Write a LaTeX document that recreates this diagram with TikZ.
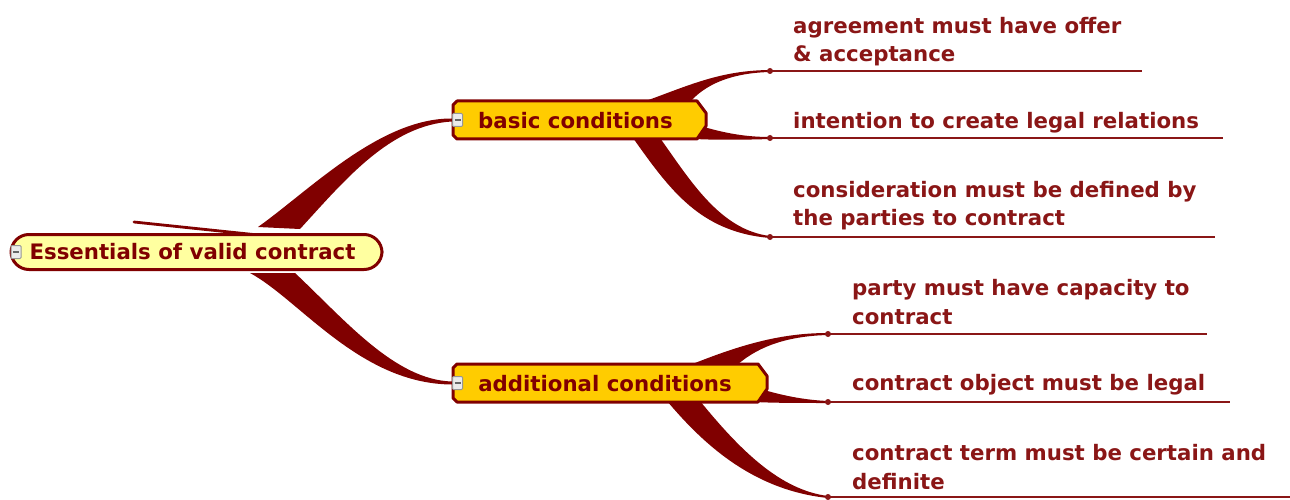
\documentclass[tikz,border=0pt]{standalone}
\usepackage{fontspec}
\setmainfont{DejaVu Sans}
\usetikzlibrary{calc}

\definecolor{branch}{RGB}{128,0,0}
\definecolor{leafred}{RGB}{138,22,22}
\definecolor{rootfill}{RGB}{255,255,160}
\definecolor{topicfill}{RGB}{255,204,0}
\definecolor{togglegray}{RGB}{150,150,150}

\begin{document}
\begin{tikzpicture}[x=1pt,y=-1pt,
  taper/.style={fill=branch},
  topictext/.style={font=\bfseries\fontsize{21.3}{24}\selectfont, text=branch, inner sep=0pt},
  leaf/.style={font=\bfseries\fontsize{21.3}{28.5}\selectfont, text=leafred, align=left, anchor=west, inner sep=0pt},
  leafline/.style={draw=leafred, line width=1.7pt},
  knob/.style={circle, fill=leafred, inner sep=0pt, minimum size=6pt},
  frame/.style={draw=branch, line width=3pt, line join=round},
  toggle/.style={draw=togglegray, fill=black!8, line width=1pt, rounded corners=1pt,
                 minimum width=10pt, minimum height=13pt, inner sep=0pt},
  minus/.style={draw=black!60, line width=1.2pt}
]
\useasboundingbox (0,0) rectangle (1290,500);

% end points of the leaf lines
\coordinate (k1) at (770,71);   \coordinate (e1) at (1142,71);
\coordinate (k2) at (770,138);  \coordinate (e2) at (1223,138);
\coordinate (k3) at (770,237);  \coordinate (e3) at (1215,237);
\coordinate (k4) at (828,334);  \coordinate (e4) at (1207,334);
\coordinate (k5) at (828,402);  \coordinate (e5) at (1230,402);
\coordinate (k6) at (828,497);  \coordinate (e6) at (1290,497);
\coordinate (basicin) at (452,120);
\coordinate (addin) at (452,383);

% tapered branches from the central topic
\fill[taper] (258,227) .. controls (310,190) and (380,118) .. ($(basicin)+(0,-1.5)$)
  -- ($(basicin)+(0,1.5)$) .. controls (390,125) and (345,180) .. (300,229) -- cycle;
\fill[taper] (250,273) .. controls (300,300) and (360,384) .. ($(addin)+(0,1.5)$)
  -- ($(addin)+(0,-1.5)$) .. controls (395,380) and (345,320) .. (295,273) -- cycle;
\draw[branch, line width=2.8pt, line cap=round] (134,222) -- (258,235);

% tapered branches to the leaves of "basic conditions"
\fill[taper] (643,102) .. controls (690,85) and (720,70.5) .. ($(k1)+(0,-1)$)
  -- ($(k1)+(0,1)$) .. controls (730,73) and (705,85) .. (690,102) -- cycle;
\fill[taper] (704,127) .. controls (725,133) and (745,137) .. ($(k2)+(0,-1)$)
  -- ($(k2)+(0,1)$) .. controls (740,140) and (715,140) .. (695,139) -- cycle;
\fill[taper] (633,138) .. controls (670,190) and (700,232) .. ($(k3)+(0,1)$)
  -- ($(k3)+(0,-1)$) .. controls (720,230) and (690,180) .. (660,138) -- cycle;

% tapered branches to the leaves of "additional conditions"
\fill[taper] (690,365) .. controls (740,345) and (780,333) .. ($(k4)+(0,-1)$)
  -- ($(k4)+(0,1)$) .. controls (790,336) and (760,345) .. (737,365) -- cycle;
\fill[taper] (764,390) .. controls (785,396) and (805,400) .. ($(k5)+(0,-1)$)
  -- ($(k5)+(0,1)$) .. controls (800,403) and (775,403) .. (755,402) -- cycle;
\fill[taper] (667,401) .. controls (700,440) and (750,490) .. ($(k6)+(0,1)$)
  -- ($(k6)+(0,-1)$) .. controls (780,490) and (740,450) .. (700,401) -- cycle;

% central topic
\node[frame, fill=rootfill, rounded corners=18pt, minimum width=371pt, minimum height=35pt,
      topictext, inner sep=0pt] (root) at (196.5,252) {Essentials of valid contract\hspace*{8pt}};

% main topics
\filldraw[frame, fill=topicfill] (457,101) -- (697,101) -- (706,113) -- (706,126) -- (697,139)
  -- (457,139) -- (453,135) -- (453,105) -- cycle;
\node[topictext] (basic) at (575.5,121) {basic conditions};
\filldraw[frame, fill=topicfill] (457,364) -- (758,364) -- (767,376) -- (767,389) -- (758,402)
  -- (457,402) -- (453,398) -- (453,368) -- cycle;
\node[topictext] (additional) at (605,384) {additional conditions};

% collapse toggles
\foreach \n/\p in {tg0/{(16,252)}, tg1/{(457.5,120)}, tg2/{(457.5,383)}} {
  \node[toggle] (\n) at \p {};
  \draw[minus] ($(\n.center)+(-3,0)$) -- ($(\n.center)+(3,0)$);
}

% leaves
\foreach \k/\e in {k1/e1,k2/e2,k3/e3,k4/e4,k5/e5,k6/e6} {
  \draw[leafline] (\k) -- (\e);
  \node[knob] at (\k) {};
}
\node[leaf] (t1) at (793,41.5) {agreement must have offer\\\& acceptance};
\node[leaf] (t2) at (793,123) {intention to create legal relations};
\node[leaf] (t3) at (793,205.5) {consideration must be defined by\\the parties to contract};
\node[leaf] (t4) at (852,302) {party must have capacity to\\contract};
\node[leaf] (t5) at (852,385) {contract object must be legal};
\node[leaf] (t6) at (852,467) {contract term must be certain and\\definite};
\end{tikzpicture}
\end{document}
